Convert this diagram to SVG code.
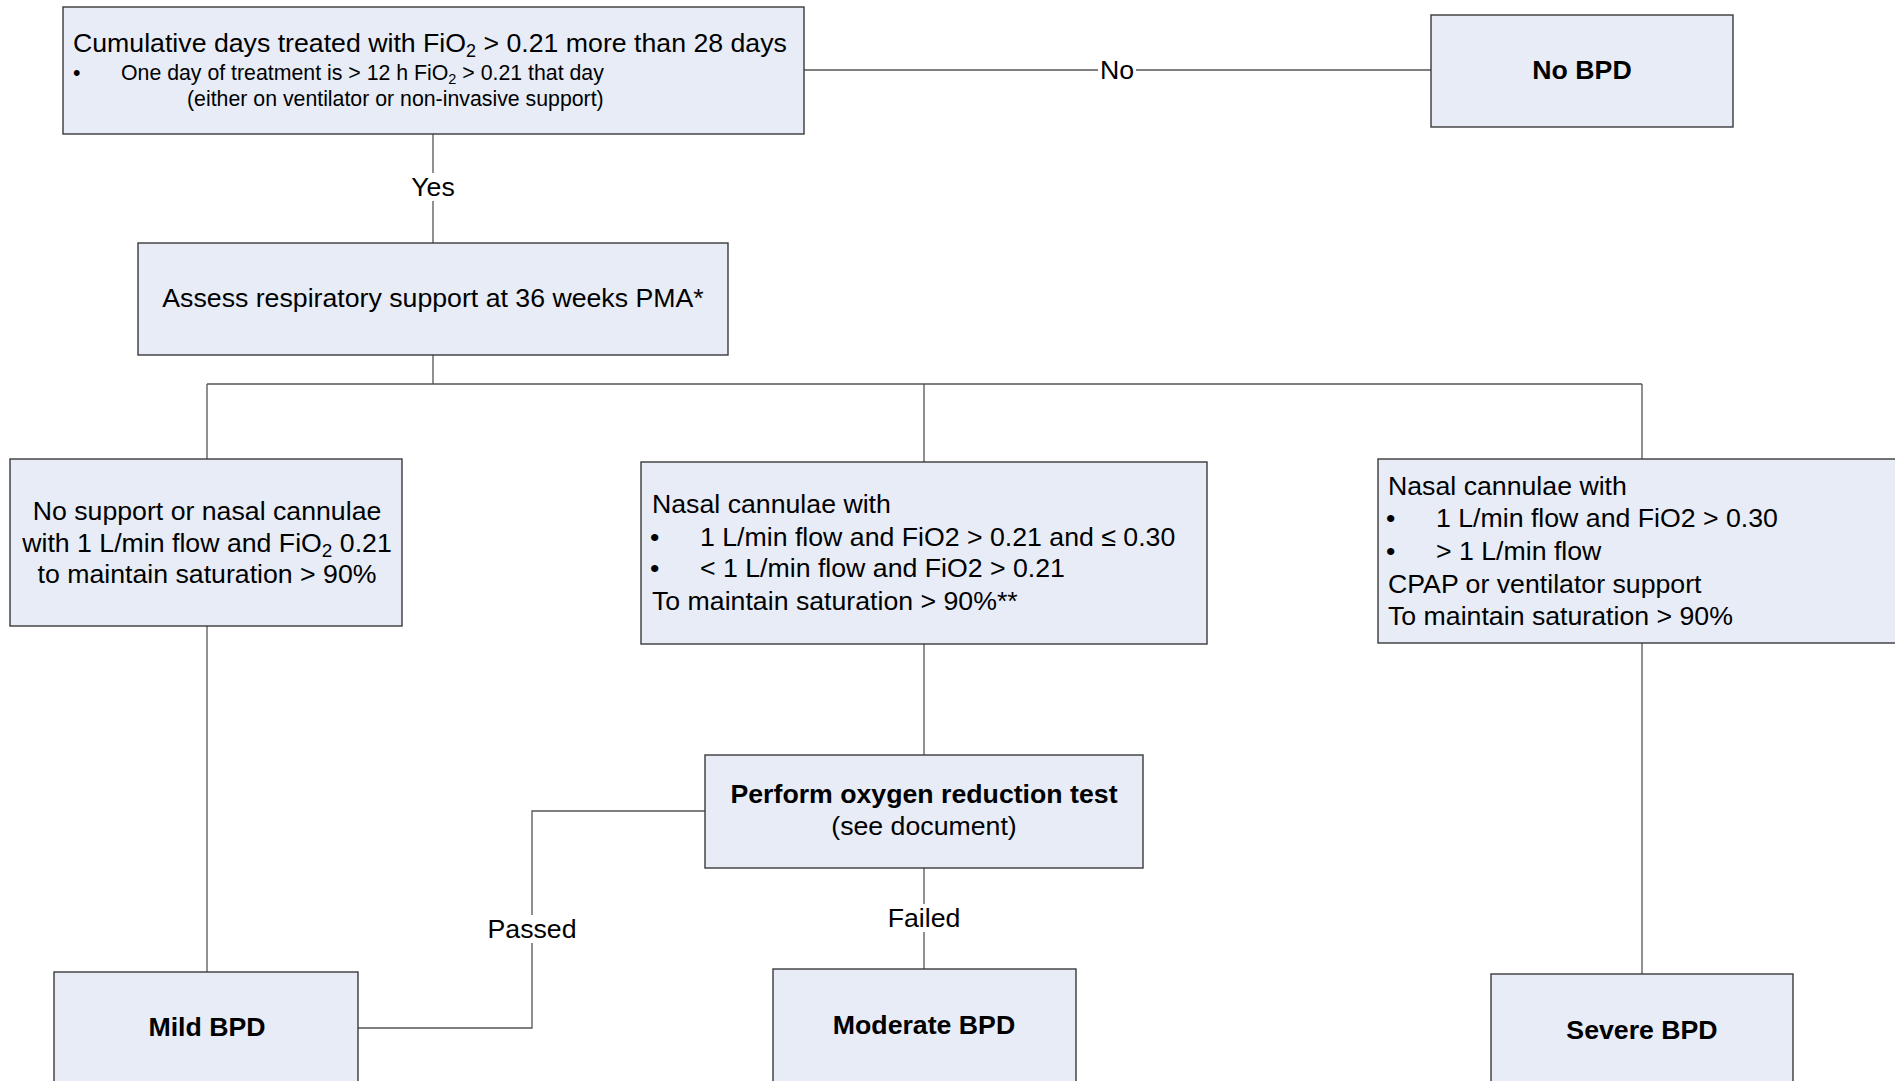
<svg xmlns="http://www.w3.org/2000/svg" width="1895" height="1081" viewBox="0 0 1895 1081">
<style>
.box{fill:#E7ECF7;stroke:#3a3a3a;stroke-width:1.4}
.t{font-family:"Liberation Sans",Arial,sans-serif;font-size:26.7px;fill:#000}
.s{font-family:"Liberation Sans",Arial,sans-serif;font-size:21.3px;fill:#000}
.b{font-family:"Liberation Sans",Arial,sans-serif;font-size:26.7px;font-weight:bold;fill:#000}
.c{text-anchor:middle}
.ln{fill:none;stroke:#555;stroke-width:1.3}
.lb{fill:#fff}
</style>
<rect width="1895" height="1081" fill="#fff"/>
<g id="connectors">
<path class="ln" d="M804 70 H1431"/>
<path class="ln" d="M433 134 V243"/>
<path class="ln" d="M433 355 V384 M207 384 H1642 M207 384 V459 M924 384 V462 M1642 384 V459"/>
<path class="ln" d="M207 626 V972"/>
<path class="ln" d="M924 644 V755"/>
<path class="ln" d="M1642 643 V974"/>
<path class="ln" d="M705 811 H532 V1028 H358"/>
<path class="ln" d="M924 868 V969"/>
<rect class="lb" x="1098" y="56" width="38" height="28"/>
<text class="t c" x="1117" y="79">No</text>
<rect class="lb" x="406" y="173" width="54" height="28"/>
<text class="t c" x="433" y="196">Yes</text>
<rect class="lb" x="482" y="915" width="100" height="28"/>
<text class="t c" x="532" y="938">Passed</text>
<rect class="lb" x="882" y="904" width="84" height="28"/>
<text class="t c" x="924" y="927">Failed</text>
</g>
<g id="n-cumulative">
<rect class="box" x="63" y="7" width="741" height="127"/>
<text class="t" x="73" y="52">Cumulative days treated with FiO<tspan font-size="18" dy="5">2</tspan><tspan dy="-5"> &gt; 0.21 more than 28 days</tspan></text>
<text class="s" x="73" y="80">•</text>
<text class="s" x="121" y="80">One day of treatment is &gt; 12 h FiO<tspan font-size="14.5" dy="4">2</tspan><tspan dy="-4"> &gt; 0.21 that day</tspan></text>
<text class="s" x="187" y="106">(either on ventilator or non-invasive support)</text>
</g>
<g id="n-nobpd">
<rect class="box" x="1431" y="15" width="302" height="112"/>
<text class="b c" x="1582" y="79">No BPD</text>
</g>
<g id="n-assess">
<rect class="box" x="138" y="243" width="590" height="112"/>
<text class="t c" x="433" y="307">Assess respiratory support at 36 weeks PMA*</text>
</g>
<g id="n-nosupport">
<rect class="box" x="10" y="459" width="392" height="167"/>
<text class="t c" x="207" y="520">No support or nasal cannulae</text>
<text class="t c" x="207" y="552">with 1 L/min flow and FiO<tspan font-size="19" dy="5">2</tspan><tspan dy="-5"> 0.21</tspan></text>
<text class="t c" x="207" y="583">to maintain saturation &gt; 90%</text>
</g>
<g id="n-nasal-moderate">
<rect class="box" x="641" y="462" width="566" height="182"/>
<text class="t" x="652" y="513">Nasal cannulae with</text>
<text class="t" x="650" y="546">•</text>
<text class="t" x="700" y="546">1 L/min flow and FiO2 &gt; 0.21 and ≤ 0.30</text>
<text class="t" x="650" y="577">•</text>
<text class="t" x="700" y="577">&lt; 1 L/min flow and FiO2 &gt; 0.21</text>
<text class="t" x="652" y="610">To maintain saturation &gt; 90%**</text>
</g>
<g id="n-nasal-severe">
<rect class="box" x="1378" y="459" width="530" height="184"/>
<text class="t" x="1388" y="495">Nasal cannulae with</text>
<text class="t" x="1386" y="527">•</text>
<text class="t" x="1436" y="527">1 L/min flow and FiO2 &gt; 0.30</text>
<text class="t" x="1386" y="560">•</text>
<text class="t" x="1436" y="560">&gt; 1 L/min flow</text>
<text class="t" x="1388" y="593">CPAP or ventilator support</text>
<text class="t" x="1388" y="625">To maintain saturation &gt; 90%</text>
</g>
<g id="n-o2test">
<rect class="box" x="705" y="755" width="438" height="113"/>
<text class="b c" x="924" y="803">Perform oxygen reduction test</text>
<text class="t c" x="924" y="835">(see document)</text>
</g>
<g id="n-mild">
<rect class="box" x="54" y="972" width="304" height="120"/>
<text class="b c" x="207" y="1036">Mild BPD</text>
</g>
<g id="n-moderate">
<rect class="box" x="773" y="969" width="303" height="120"/>
<text class="b c" x="924" y="1034">Moderate BPD</text>
</g>
<g id="n-severe">
<rect class="box" x="1491" y="974" width="302" height="120"/>
<text class="b c" x="1642" y="1039">Severe BPD</text>
</g>
</svg>
